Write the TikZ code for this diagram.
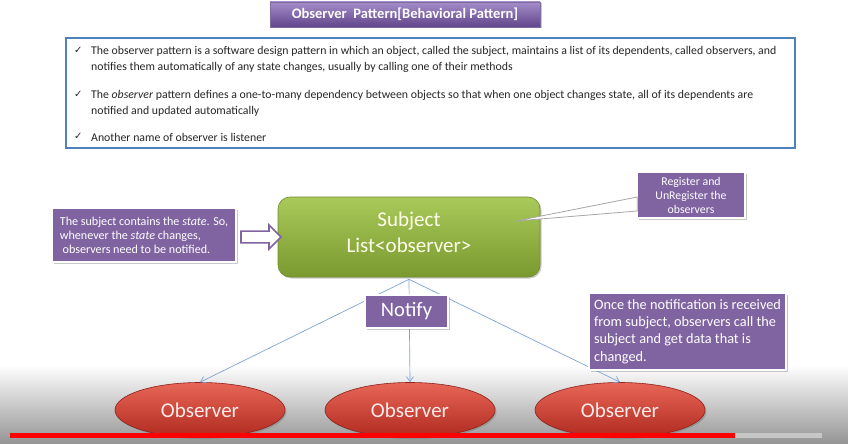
\documentclass[tikz,border=0pt]{standalone}
\usepackage{fontspec}
\setmainfont{Carlito}
\newfontfamily\symfont{DejaVu Sans}
\usetikzlibrary{shapes.geometric,shapes.arrows,shadows,arrows.meta,calc}

\definecolor{plum}{HTML}{8064A2}
\definecolor{plumlight}{HTML}{A58CC9}
\definecolor{plumdark}{HTML}{60468A}
\definecolor{frameblue}{HTML}{4F81BD}
\definecolor{linkblue}{HTML}{7FA3D6}
\definecolor{leaftop}{HTML}{A9C95A}
\definecolor{leafbottom}{HTML}{7A9A30}
\definecolor{leafedge}{HTML}{6E8C2A}
\definecolor{embertop}{HTML}{E86656}
\definecolor{emberbottom}{HTML}{B02A20}
\definecolor{textgrey}{HTML}{262626}

\tikzset{
  softshadow/.style={drop shadow={shadow xshift=1.5pt, shadow yshift=-1.5pt, opacity=0.35, fill=black!60}},
  titlebox/.style={top color=plumlight, bottom color=plumdark, draw=plumdark!80, line width=0.6pt,
    softshadow, text=white, font=\fontsize{14.5}{16}\selectfont\bfseries, inner sep=0pt},
  notebox/.style={fill=plum, draw=white, line width=1.6pt, softshadow, text=white, inner sep=0pt},
  subjectbox/.style={top color=leaftop, bottom color=leafbottom, draw=leafedge, line width=0.6pt,
    rounded corners=12pt, softshadow, inner sep=0pt},
  subjecttext/.style={text=white!92!yellow, inner sep=0pt, font=\fontsize{21}{26}\selectfont, align=center},
  observerbox/.style={ellipse, top color=embertop, bottom color=emberbottom, draw=emberbottom!80!black,
    line width=0.6pt, softshadow, text=white!92!red, font=\fontsize{21}{24}\selectfont,
    minimum width=170pt, minimum height=55pt, inner sep=0pt},
  infoline/.style={anchor=west, inner sep=0pt, text=textgrey, font=\fontsize{11.8}{13}\selectfont},
  tick/.style={anchor=west, inner sep=0pt, text=textgrey, font=\symfont\fontsize{10}{12}\selectfont},
  link/.style={draw=linkblue, line width=0.7pt, -{Straight Barb[length=5pt, width=7pt]}},
}

\begin{document}
\begin{tikzpicture}[x=1pt, y=-1pt]
\useasboundingbox (0,0) rectangle (848,444);
\fill[white] (0,0) rectangle (848,444);

% player shade along the bottom edge
\shade[top color=white, bottom color=black!42] (0,365) rectangle (848,444);

% heading
\node[titlebox, minimum width=270pt, minimum height=25pt] (heading) at (405,14.5)
  {Observer\ \ Pattern[Behavioral Pattern]};

% definition panel
\node[draw=frameblue, line width=2pt, fill=white, minimum width=729pt, minimum height=110pt] (info) at (430.5,93) {};
\node[tick] (t1) at (74,50) {✓};
\node[infoline] (l1) at (91,51) {The observer pattern is a software design pattern in which an object, called the subject, maintains a list of its dependents, called observers, and};
\node[infoline] (l2) at (91,67) {notifies them automatically of any state changes, usually by calling one of their methods};
\node[tick] (t2) at (74,94) {✓};
\node[infoline] (l3) at (91,95) {The \textit{observer} pattern defines a one-to-many dependency between objects so that when one object changes state, all of its dependents are};
\node[infoline] (l4) at (91,111) {notified and updated automatically};
\node[tick] (t3) at (74,136) {✓};
\node[infoline] (l5) at (91,137) {Another name of observer is listener};

% subject and its observers
\node[subjectbox, minimum width=262pt, minimum height=80pt] (subj) at (409,237) {};
\node[subjecttext] (subjtext) at (409,232) {Subject\\List<observer>};

\node[observerbox] (obs1) at (200,410) {Observer};
\node[observerbox] (obs2) at (410,410) {Observer};
\node[observerbox] (obs3) at (620,410) {Observer};

\coordinate (fan) at ([yshift=-2pt]subj.south);
\draw[link] (fan) -- (obs1.north);
\draw[link] (fan) -- (obs2.north);
\draw[link] (fan) -- (obs3.north);

% notes
\node[notebox, minimum width=184pt, minimum height=54pt, align=left,
  font=\fontsize{12.1}{14}\selectfont] (state) at (144,235)
  {The subject contains the \textit{state}. So,\\whenever the \textit{state} changes,\\\ observers need to be notified.};

\node[single arrow, draw=plum, fill=white, line width=1.6pt, minimum height=40pt,
  minimum width=24pt, single arrow head extend=6pt, inner sep=5pt] (push) at (258,237) {};

\node[notebox, minimum width=108pt, minimum height=46pt, align=center,
  font=\fontsize{11.8}{14}\selectfont] (reg) at (691,195)
  {Register and\\UnRegister the\\observers};
\coordinate (regtip) at (516,221);
\filldraw[fill=white, draw=black!35, line width=0.8pt]
  ($(reg.west)+(1,2)$) -- (regtip) -- ($(reg.west)+(1,16)$) -- cycle;

\node[notebox, minimum width=83pt, minimum height=33pt,
  font=\fontsize{20.5}{22}\selectfont] (notify) at (406.5,311.5) {Notify};

\node[notebox, minimum width=197pt, minimum height=77pt, align=left,
  font=\fontsize{14.3}{17.3}\selectfont] (pull) at (687.5,331.5)
  {Once the notification is received\\from subject, observers call the\\subject and get data that is\\changed.};

% playback bar
\fill[red] (10,433) rectangle (735,437.5);
\fill[black!22] (735,433) rectangle (822,437.5);
\end{tikzpicture}
\end{document}
